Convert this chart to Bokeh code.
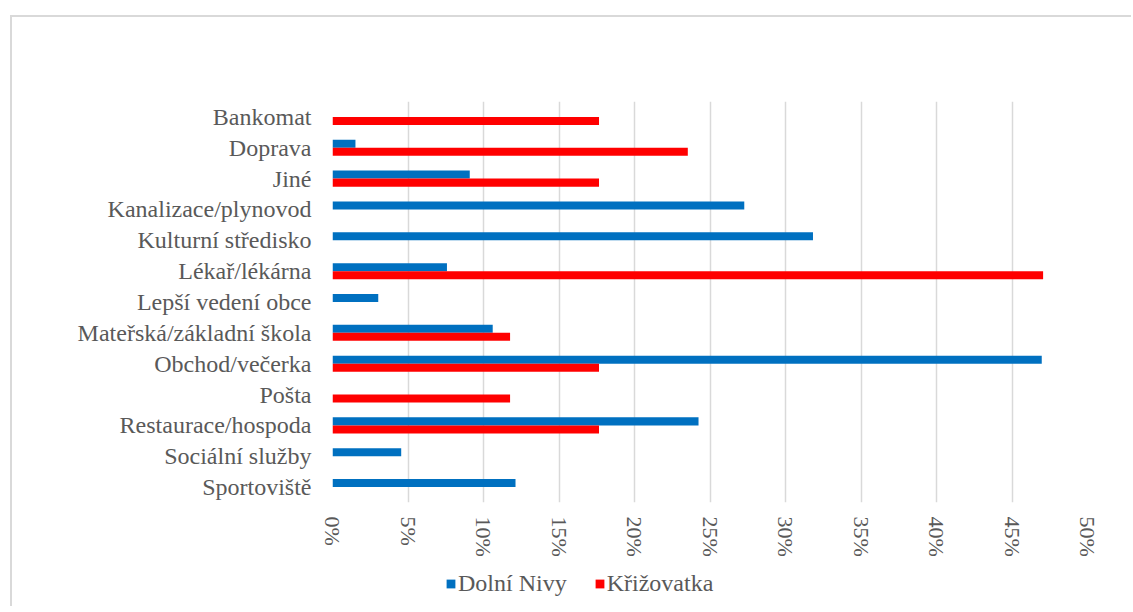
from bokeh.plotting import figure
from bokeh.layouts import column
from bokeh.models import (FactorRange, Range1d, ColumnDataSource, FixedTicker,
                          PrintfTickFormatter, Legend, LegendItem)
from bokeh.transform import dodge
from bokeh.embed import file_html
from bokeh.resources import INLINE

categories = ["Bankomat", "Doprava", "Jiné", "Kanalizace/plynovod", "Kulturní středisko",
              "Lékař/lékárna", "Lepší vedení obce", "Mateřská/základní škola",
              "Obchod/večerka", "Pošta", "Restaurace/hospoda", "Sociální služby", "Sportoviště"]
dolni_nivy = [0.0, 1.52, 9.09, 27.27, 31.82, 7.58, 3.03, 10.61, 46.97, 0.0, 24.24, 4.55, 12.12]
krizovatka = [17.65, 23.53, 17.65, 0.0, 0.0, 47.06, 0.0, 11.76, 17.65, 11.76, 17.65, 0.0, 0.0]
series_names = ["Dolní Nivy", "Křižovatka"]
series_colors = ["#0070C0", "#FF0000"]
x_ticks = [0, 5, 10, 15, 20, 25, 30, 35, 40, 45, 50]

src = ColumnDataSource(dict(cat=categories, dn=dolni_nivy, kr=krizovatka))

FONT = "Liberation Serif"
GRAY = "#595959"
BORDER = "2px solid #d9d9d9"

p = figure(y_range=FactorRange(factors=list(reversed(categories))),
           x_range=Range1d(0, 50),
           output_backend="svg", toolbar_location=None,
           frame_width=753, frame_height=399,
           min_border_left=320, min_border_right=46,
           min_border_top=84, min_border_bottom=60)
p.styles = {"border-left": BORDER, "border-top": BORDER,
            "margin-left": "10px", "margin-top": "15px"}

p.hbar(y=dodge("cat", 0.13, range=p.y_range), right="dn", left=0, height=0.26,
       source=src, fill_color=series_colors[0], line_color=None)
p.hbar(y=dodge("cat", -0.13, range=p.y_range), right="kr", left=0, height=0.26,
       source=src, fill_color=series_colors[1], line_color=None)

p.outline_line_color = None
p.background_fill_color = "white"
p.border_fill_color = "white"

p.xaxis.ticker = FixedTicker(ticks=x_ticks)
p.xaxis.formatter = PrintfTickFormatter(format="%d%%")
p.xaxis.major_label_orientation = "vertical"
p.xaxis.axis_line_color = None
p.xaxis.major_tick_line_color = None
p.xaxis.minor_tick_line_color = None
p.xaxis.major_tick_out = 0
p.xaxis.major_tick_in = 0
p.xaxis.major_label_standoff = 14
p.xaxis.major_label_text_font = FONT
p.xaxis.major_label_text_font_size = "22px"
p.xaxis.major_label_text_color = GRAY

p.yaxis.axis_line_color = None
p.yaxis.major_tick_line_color = None
p.yaxis.minor_tick_line_color = None
p.yaxis.major_tick_out = 0
p.yaxis.major_tick_in = 0
p.yaxis.major_label_standoff = 21
p.yaxis.major_label_text_font = FONT
p.yaxis.major_label_text_font_size = "24px"
p.yaxis.major_label_text_color = GRAY

p.xgrid.ticker = FixedTicker(ticks=x_ticks)
p.xgrid.grid_line_color = "#d9d9d9"
p.xgrid.grid_line_width = 1.5
p.ygrid.grid_line_color = None

# legend strip below the chart (same series colours; zero-width carriers)
p2 = figure(width=1121, height=46, x_range=Range1d(0, 1), y_range=Range1d(0, 1),
            output_backend="svg", toolbar_location=None,
            x_axis_location=None, y_axis_location=None, min_border=0)
p2.styles = {"border-left": BORDER, "margin-left": "10px"}
p2.outline_line_color = None
p2.grid.grid_line_color = None
lr1 = p2.hbar(y="dn", right=0, left=0, height=0.26, source=src,
              fill_color=series_colors[0], line_color=None)
lr2 = p2.hbar(y="kr", right=0, left=0, height=0.26, source=src,
              fill_color=series_colors[1], line_color=None)

legend = Legend(items=[LegendItem(label=series_names[0], renderers=[lr1]),
                       LegendItem(label=series_names[1], renderers=[lr2])],
                orientation="horizontal", location=(113, 9),
                padding=0, margin=0, spacing=27,
                glyph_width=11, glyph_height=11, label_standoff=2,
                label_text_font=FONT, label_text_font_size="24px",
                label_text_color=GRAY,
                border_line_color=None, background_fill_alpha=0)
p2.add_layout(legend, "center")

layout = column(p, p2, spacing=0)

open("out.html", "w").write(file_html(layout, INLINE))
